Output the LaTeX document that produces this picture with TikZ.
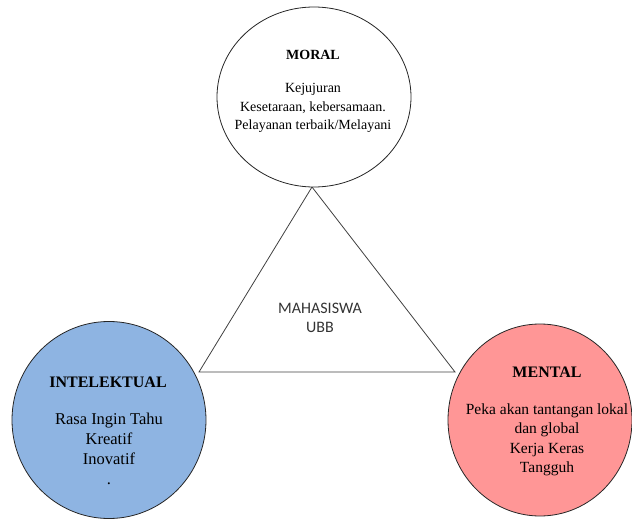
\documentclass[tikz,border=0pt]{standalone}
\usepackage{fontspec}
\setmainfont{Liberation Serif}
\newfontfamily\calibrifont{Carlito}
\usetikzlibrary{shapes.geometric}
\definecolor{intblue}{RGB}{142,180,226}
\definecolor{menpink}{RGB}{255,150,150}
\begin{document}
\begin{tikzpicture}[x=1pt,y=-1pt,
  oval/.style={ellipse,draw=black!85,line width=0.8pt,inner sep=0pt},
  ttl/.style={inner sep=0pt,font=\fontsize{16}{19.5}\selectfont\bfseries},
  bodytext/.style={align=center,inner sep=0pt,font=\fontsize{15.5}{19.5}\selectfont},
  tri/.style={draw=black!75,line width=0.8pt}]
\useasboundingbox (0,0) rectangle (632,519);
% triangle
\coordinate (apex) at (312,187);
\coordinate (bl) at (199,372);
\coordinate (br) at (455,372);
\draw[tri] (apex) -- (bl) -- (br) -- cycle;
\node[align=center,inner sep=0pt,font=\calibrifont\fontsize{16}{19}\selectfont,text=black!80] (mhs) at (320,318) {MAHASISWA\\UBB};
% moral
\node[oval,fill=white,minimum width=194pt,minimum height=180pt] (moral) at (314,97) {};
\node[inner sep=0pt,font=\fontsize{14}{17}\selectfont\bfseries] (moralt) at (313,55) {MORAL};
\node[align=center,inner sep=0pt,font=\fontsize{14}{18.5}\selectfont] (moralb) at (313,108) {Kejujuran\\Kesetaraan, kebersamaan.\\Pelayanan terbaik/Melayani};
% intelektual
\node[oval,fill=intblue,minimum width=194pt,minimum height=197pt] (intel) at (109,420) {};
\node[ttl] (intelt) at (108,382) {INTELEKTUAL};
\node[bodytext,font=\fontsize{16.5}{20}\selectfont] (intelb) at (109,449) {Rasa Ingin Tahu\\Kreatif\\Inovatif\\.};
% mental
\node[oval,fill=menpink,minimum width=184pt,minimum height=192pt] (mental) at (540,420) {};
\node[ttl] (mentalt) at (547,372) {MENTAL};
\node[bodytext] (mentalb) at (547,440) {Peka akan tantangan lokal\\dan global\\Kerja Keras\\Tangguh};
\end{tikzpicture}
\end{document}
